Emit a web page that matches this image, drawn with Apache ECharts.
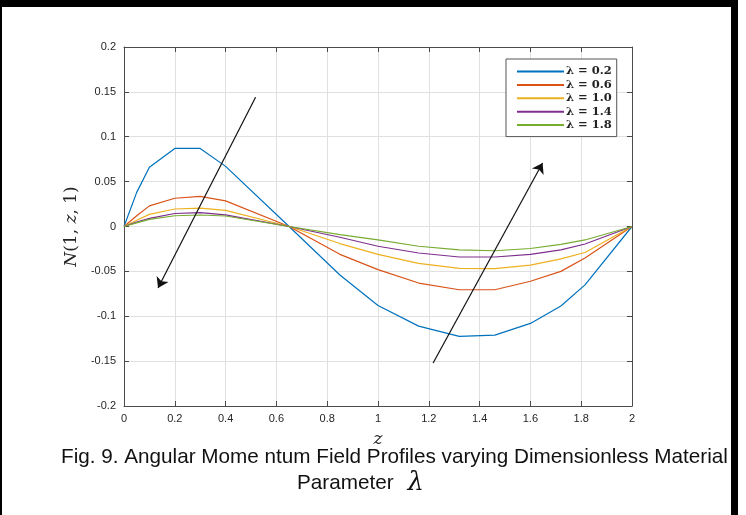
<!DOCTYPE html>
<html>
<head>
<meta charset="utf-8">
<script src="https://cdn.jsdelivr.net/npm/echarts@6/dist/echarts.min.js"></script>
<style>
  html, body { margin: 0; padding: 0; background: #fff; }
  #chart { width: 746px; height: 515px; }
</style>
</head>
<body>
<div id="chart"></div>
<script>
// Sample positions along z
const zValues = [0, 0.05, 0.1, 0.2, 0.3, 0.4, 0.65, 0.85, 1.0, 1.16, 1.32, 1.46, 1.6, 1.72, 1.815, 2.0];

// N(1, z, 1) for each material parameter
const lambda02 = [0, 0.038, 0.066, 0.087, 0.087, 0.067, 0, -0.054, -0.088, -0.111, -0.1225, -0.121, -0.108, -0.0885, -0.065, 0];
const lambda06 = [0, 0.012, 0.023, 0.0315, 0.0335, 0.0285, 0, -0.031, -0.048, -0.063, -0.0705, -0.0705, -0.061, -0.050, -0.035, 0];
const lambda10 = [0, 0.007, 0.0135, 0.0195, 0.0205, 0.018, 0, -0.019, -0.031, -0.041, -0.0466, -0.047, -0.043, -0.036, -0.029, 0];
const lambda14 = [0, 0.005, 0.009, 0.0145, 0.0155, 0.013, 0, -0.012, -0.022, -0.0295, -0.034, -0.034, -0.031, -0.026, -0.0195, 0];
const lambda18 = [0, 0.004, 0.008, 0.012, 0.0128, 0.0117, 0, -0.009, -0.015, -0.022, -0.026, -0.027, -0.0245, -0.020, -0.015, 0];

const seriesNames = ['λ = 0.2', 'λ = 0.6', 'λ = 1.0', 'λ = 1.4', 'λ = 1.8'];
const seriesValues = [lambda02, lambda06, lambda10, lambda14, lambda18];
const seriesColors = ['#0072BD', '#D95319', '#EDB120', '#7E2F8E', '#77AC30'];

// Trend arrows (start, end) in data coordinates
const arrowDown = [[0.518, 0.144], [0.134, -0.0685]];
const arrowUp = [[1.217, -0.152], [1.648, 0.0707]];

const xTicks = { min: 0, max: 2, interval: 0.2 };
const yTicks = { min: -0.2, max: 0.2, interval: 0.05 };

const captionLine1 = 'Fig. 9. Angular Mome ntum Field Profiles varying Dimensionless Material';
const captionLine2 = 'Parameter';
const captionSymbol = 'λ';

const axisColor = '#4a4a4a';
const gridColor = '#e0e0e0';
const sansFont = 'Liberation Sans, Arial, sans-serif';
const serifFont = 'DejaVu Serif, serif';
const labelFont = { color: '#262626', fontSize: 11, fontFamily: sansFont };

const chart = echarts.init(document.getElementById('chart'), null, { renderer: 'canvas' });

const lineSeries = seriesNames.map((name, i) => ({
  name: name,
  type: 'line',
  data: zValues.map((z, k) => [z, seriesValues[i][k]]),
  symbol: 'none',
  smooth: false,
  lineStyle: { color: seriesColors[i], width: 1.2 },
  itemStyle: { color: seriesColors[i] },
  z: 3
}));

const arrowSeries = {
  type: 'lines',
  coordinateSystem: 'cartesian2d',
  symbol: ['none', 'arrow'],
  symbolSize: [0, 10],
  lineStyle: { color: '#111', width: 1.2, opacity: 1 },
  data: [{ coords: arrowDown }, { coords: arrowUp }],
  silent: true,
  z: 4
};

const option = {
  backgroundColor: '#fff',
  animation: false,
  title: [
    {
      text: captionLine1,
      left: 61,
      top: 445,
      padding: 0,
      textStyle: { fontFamily: sansFont, fontSize: 20.7, fontWeight: 'normal', color: '#111', lineHeight: 24 }
    },
    {
      text: '{p|' + captionLine2 + '}{l|' + captionSymbol + '}',
      left: 297,
      top: 470,
      padding: 0,
      textStyle: {
        fontFamily: sansFont, fontSize: 20.7, fontWeight: 'normal', color: '#111', lineHeight: 26,
        rich: {
          p: { fontFamily: sansFont, fontSize: 20.7, color: '#111', lineHeight: 26 },
          l: { fontFamily: serifFont, fontStyle: 'italic', fontSize: 26, color: '#111', lineHeight: 26, padding: [0, 0, 0, 14] }
        }
      }
    }
  ],
  legend: {
    data: seriesNames,
    orient: 'vertical',
    left: 506,
    top: 59,
    padding: [6, 5, 5, 10],
    itemWidth: 47,
    itemHeight: 13,
    itemGap: 0.4,
    backgroundColor: '#fff',
    borderColor: '#555',
    borderWidth: 1,
    itemStyle: { opacity: 0 },
    textStyle: {
      fontFamily: serifFont,
      fontSize: 11.5,
      fontWeight: 'bold',
      color: '#222',
      lineHeight: 13,
      padding: [0, 0, 0, -3]
    }
  },
  grid: { left: 124, right: 114, top: 47, bottom: 109, containLabel: false },
  xAxis: [
    {
      type: 'value',
      position: 'bottom',
      min: xTicks.min, max: xTicks.max, interval: xTicks.interval,
      name: 'z',
      nameLocation: 'middle',
      nameGap: 25,
      nameTextStyle: { fontFamily: serifFont, fontStyle: 'italic', fontSize: 17, color: '#262626' },
      axisLine: { show: true, onZero: false, lineStyle: { color: axisColor, width: 1 } },
      axisTick: { show: true, inside: true, length: 5, lineStyle: { color: axisColor } },
      axisLabel: Object.assign({ margin: 7 }, labelFont),
      splitLine: { show: true, lineStyle: { color: gridColor, width: 1 } }
    },
    {
      type: 'value',
      position: 'top',
      min: xTicks.min, max: xTicks.max, interval: xTicks.interval,
      axisLine: { show: true, onZero: false, lineStyle: { color: axisColor, width: 1 } },
      axisTick: { show: true, inside: true, length: 5, lineStyle: { color: axisColor } },
      axisLabel: { show: false },
      splitLine: { show: false }
    }
  ],
  yAxis: [
    {
      type: 'value',
      position: 'left',
      min: yTicks.min, max: yTicks.max, interval: yTicks.interval,
      name: '{i|N}(1, {i|z}, 1)',
      nameLocation: 'middle',
      nameGap: 44,
      nameRotate: 90,
      nameTextStyle: {
        fontFamily: serifFont, fontSize: 17, color: '#262626',
        rich: { i: { fontFamily: serifFont, fontStyle: 'italic', fontSize: 17, color: '#262626' } }
      },
      axisLine: { show: true, onZero: false, lineStyle: { color: axisColor, width: 1 } },
      axisTick: { show: true, inside: true, length: 5, lineStyle: { color: axisColor } },
      axisLabel: Object.assign({ margin: 8 }, labelFont),
      splitLine: { show: true, lineStyle: { color: gridColor, width: 1 } }
    },
    {
      type: 'value',
      position: 'right',
      min: yTicks.min, max: yTicks.max, interval: yTicks.interval,
      axisLine: { show: true, onZero: false, lineStyle: { color: axisColor, width: 1 } },
      axisTick: { show: true, inside: true, length: 5, lineStyle: { color: axisColor } },
      axisLabel: { show: false },
      splitLine: { show: false }
    }
  ],
  graphic: [
    { type: 'rect', shape: { x: 0, y: 0, width: 738, height: 7 }, style: { fill: '#000' }, silent: true },
    { type: 'rect', shape: { x: 0, y: 0, width: 2, height: 515 }, style: { fill: '#000' }, silent: true },
    { type: 'rect', shape: { x: 731, y: 0, width: 7, height: 515 }, style: { fill: '#000' }, silent: true }
  ],
  series: lineSeries.concat([arrowSeries])
};

chart.setOption(option);
</script>
</body>
</html>
